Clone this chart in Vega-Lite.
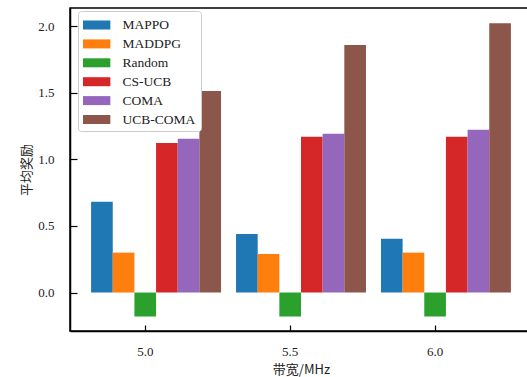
{
  "$schema": "https://vega.github.io/schema/vega-lite/v6.json",
  "width": 462,
  "height": 323,
  "autosize": {"type": "none"},
  "padding": {"left": 70, "top": 8, "right": 0, "bottom": 46},
  "background": "white",
  "config": {
    "view": {"stroke": "black", "strokeWidth": 1.5},
    "font": "Liberation Serif"
  },
  "data": {
    "values": [
      {"bw": "5.0", "method": "MAPPO", "reward": 0.683},
      {"bw": "5.0", "method": "MADDPG", "reward": 0.30},
      {"bw": "5.0", "method": "Random", "reward": -0.18},
      {"bw": "5.0", "method": "CS-UCB", "reward": 1.123},
      {"bw": "5.0", "method": "COMA", "reward": 1.155},
      {"bw": "5.0", "method": "UCB-COMA", "reward": 1.515},
      {"bw": "5.5", "method": "MAPPO", "reward": 0.44},
      {"bw": "5.5", "method": "MADDPG", "reward": 0.29},
      {"bw": "5.5", "method": "Random", "reward": -0.18},
      {"bw": "5.5", "method": "CS-UCB", "reward": 1.17},
      {"bw": "5.5", "method": "COMA", "reward": 1.193},
      {"bw": "5.5", "method": "UCB-COMA", "reward": 1.86},
      {"bw": "6.0", "method": "MAPPO", "reward": 0.405},
      {"bw": "6.0", "method": "MADDPG", "reward": 0.30},
      {"bw": "6.0", "method": "Random", "reward": -0.18},
      {"bw": "6.0", "method": "CS-UCB", "reward": 1.17},
      {"bw": "6.0", "method": "COMA", "reward": 1.223},
      {"bw": "6.0", "method": "UCB-COMA", "reward": 2.023}
    ]
  },
  "mark": {"type": "bar"},
  "encoding": {
    "x": {
      "field": "bw",
      "type": "nominal",
      "sort": null,
      "scale": {"paddingInner": 0.1034, "paddingOuter": 0.1455},
      "axis": {
        "bandPosition": 0.41667,
        "labelAngle": 0,
        "labelOffset": -10.8,
        "labelFont": "Liberation Serif",
        "labelFontSize": 13,
        "labelColor": "#222",
        "labelPadding": 20,
        "tickSize": -6,
        "tickColor": "black",
        "tickWidth": 1.2,
        "domain": true,
        "domainColor": "black",
        "domainWidth": 1.5,
        "grid": false,
        "title": "带宽/MHz",
        "titleFont": "Noto Sans CJK SC",
        "titleFontSize": 13,
        "titleFontWeight": "normal",
        "titleColor": "#222",
        "titlePadding": 5
      }
    },
    "xOffset": {
      "field": "method",
      "type": "nominal",
      "sort": ["MAPPO", "MADDPG", "Random", "CS-UCB", "COMA", "UCB-COMA"],
      "scale": {"paddingInner": 0, "paddingOuter": 0}
    },
    "y": {
      "field": "reward",
      "type": "quantitative",
      "scale": {"domain": [-0.289, 2.138], "nice": false, "zero": false},
      "axis": {
        "values": [0, 0.5, 1, 1.5, 2],
        "format": ".1f",
        "labelFont": "Liberation Serif",
        "labelFontSize": 13,
        "labelColor": "#222",
        "labelPadding": 23,
        "tickSize": -7,
        "tickColor": "black",
        "tickWidth": 1.2,
        "domain": true,
        "domainColor": "black",
        "domainWidth": 1.5,
        "grid": false,
        "title": "平均奖励",
        "titleFont": "Noto Sans CJK SC",
        "titleFontSize": 13,
        "titleFontWeight": "normal",
        "titleColor": "#222",
        "titlePadding": 4
      }
    },
    "color": {
      "field": "method",
      "type": "nominal",
      "sort": ["MAPPO", "MADDPG", "Random", "CS-UCB", "COMA", "UCB-COMA"],
      "scale": {
        "domain": ["MAPPO", "MADDPG", "Random", "CS-UCB", "COMA", "UCB-COMA"],
        "range": ["#1f77b4", "#ff7f0e", "#2ca02c", "#d62728", "#9467bd", "#8c564b"]
      },
      "legend": {
        "orient": "none",
        "legendX": 8,
        "legendY": 3,
        "title": null,
        "symbolType": "M-1,-0.5H2.04V0.5H-1Z",
        "symbolSize": 324,
        "symbolStrokeWidth": 0,
        "symbolOpacity": 1,
        "labelFont": "Liberation Serif",
        "labelFontSize": 13.5,
        "labelColor": "#222",
        "labelOffset": 21.4,
        "rowPadding": 2.9,
        "padding": 5,
        "strokeColor": "#cccccc",
        "fillColor": "white",
        "cornerRadius": 3
      }
    }
  }
}
